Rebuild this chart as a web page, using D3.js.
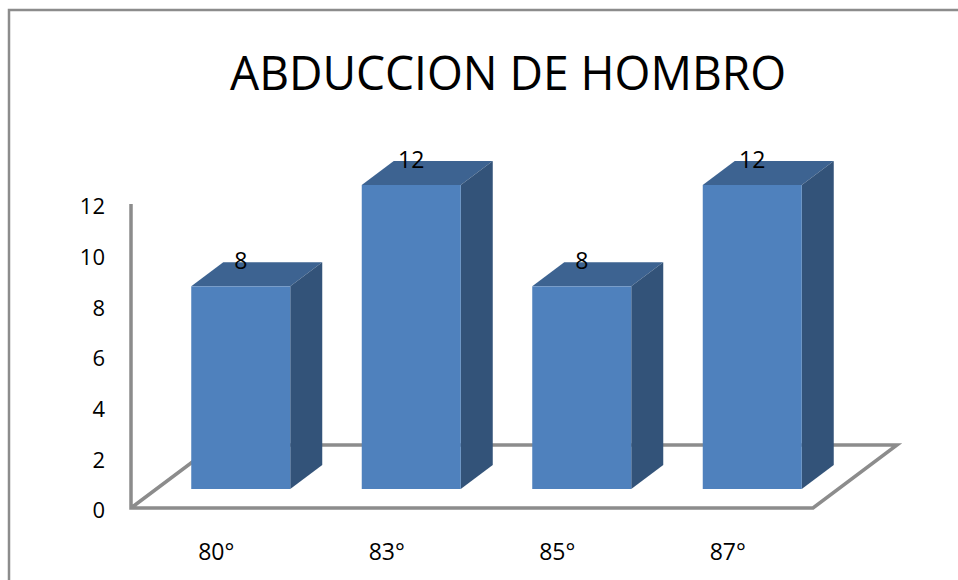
<!DOCTYPE html>
<html lang="en">
<head>
    <meta charset="UTF-8">
    <title>abduccion de hombro</title>
    <script src="https://d3js.org/d3.v7.min.js"></script>
    <style>
        html, body { margin: 0; padding: 0; background: #fff; }
        svg { display: block; }
        text { font-family: "Open Sans", sans-serif; fill: #000; }
    </style>
</head>
<body>
<svg class="graph"></svg>
<script>
    var width = 958;
    var height = 580;

    var chartTitle = 'ABDUCCION DE HOMBRO';
    var categories = ['80°', '83°', '85°', '87°'];
    var values = [8, 12, 8, 12];
    var yTicks = [0, 2, 4, 6, 8, 10, 12];

    var svg = d3.select('.graph')
        .attr('width', width)
        .attr('height', height);

    var x = d3.scaleBand().domain(categories).range([131, 813]);
    var y = d3.scaleLinear().domain([0, 12]).range([508, 204]);

    // how the 3d box is pushed back from the floor front edge
    var barShiftX = 24.5, barShiftY = -19;
    var depthX = 32, depthY = -24;
    var barWidth = 99;
    var floorX = 84, floorY = -63;

    var axisColor = '#8c8c8c';

    // picture frame, only left and top show
    svg.append('path')
        .attr('d', 'M9,' + height + 'V10H' + width)
        .attr('fill', 'none')
        .attr('stroke', axisColor)
        .attr('stroke-width', 2.5);

    svg.append('text')
        .attr('x', 508).attr('y', 90)
        .attr('text-anchor', 'middle')
        .attr('font-size', 48)
        .attr('textLength', 556)
        .attr('lengthAdjust', 'spacingAndGlyphs')
        .text(chartTitle);

    // floor and value axis
    var floor = d3.path();
    floor.moveTo(x.range()[0], y(12));
    floor.lineTo(x.range()[0], y(0));
    floor.lineTo(x.range()[1], y(0));
    floor.lineTo(x.range()[1] + floorX, y(0) + floorY);
    floor.lineTo(x.range()[0] + floorX, y(0) + floorY);
    floor.lineTo(x.range()[0], y(0));
    svg.append('path')
        .attr('d', floor.toString())
        .attr('fill', 'none')
        .attr('stroke', axisColor)
        .attr('stroke-width', 3.5);

    var yAxis = d3.axisLeft(y).tickValues(yTicks).tickSize(0).tickPadding(26);
    var yG = svg.append('g')
        .attr('transform', 'translate(' + x.range()[0] + ',0)')
        .call(yAxis);
    yG.select('.domain').remove();
    yG.selectAll('text')
        .attr('font-size', 22)
        .attr('dy', '0.45em');

    var xAxis = d3.axisBottom(x).tickSize(0).tickPadding(36);
    var xG = svg.append('g')
        .attr('transform', 'translate(0,' + y(0) + ')')
        .call(xAxis);
    xG.select('.domain').remove();
    xG.selectAll('text').attr('font-size', 23);

    // boxes
    var bars = svg.append('g').selectAll('g')
        .data(values)
        .enter()
        .append('g');

    function left(d, i) {
        return x(categories[i]) + x.bandwidth() / 2 + barShiftX - barWidth / 2;
    }

    bars.append('polygon')
        .attr('fill', '#3d6391')
        .attr('points', function (d, i) {
            var l = left(d, i), t = y(d) + barShiftY;
            return [[l, t], [l + depthX, t + depthY], [l + barWidth + depthX, t + depthY], [l + barWidth, t]].join(' ');
        });

    bars.append('polygon')
        .attr('fill', '#335379')
        .attr('points', function (d, i) {
            var r = left(d, i) + barWidth, t = y(d) + barShiftY, b = y(0) + barShiftY;
            return [[r, t], [r + depthX, t + depthY], [r + depthX, b + depthY], [r, b]].join(' ');
        });

    bars.append('rect')
        .attr('fill', '#4f81bd')
        .attr('x', left)
        .attr('y', function (d) { return y(d) + barShiftY; })
        .attr('width', barWidth)
        .attr('height', function (d) { return y(0) - y(d); });

    bars.append('text')
        .attr('x', function (d, i) { return left(d, i) + barWidth / 2; })
        .attr('y', function (d) { return y(d) + barShiftY + depthY + 7; })
        .attr('text-anchor', 'middle')
        .attr('font-size', 23)
        .text(function (d) { return d; });
</script>
</body>
</html>
